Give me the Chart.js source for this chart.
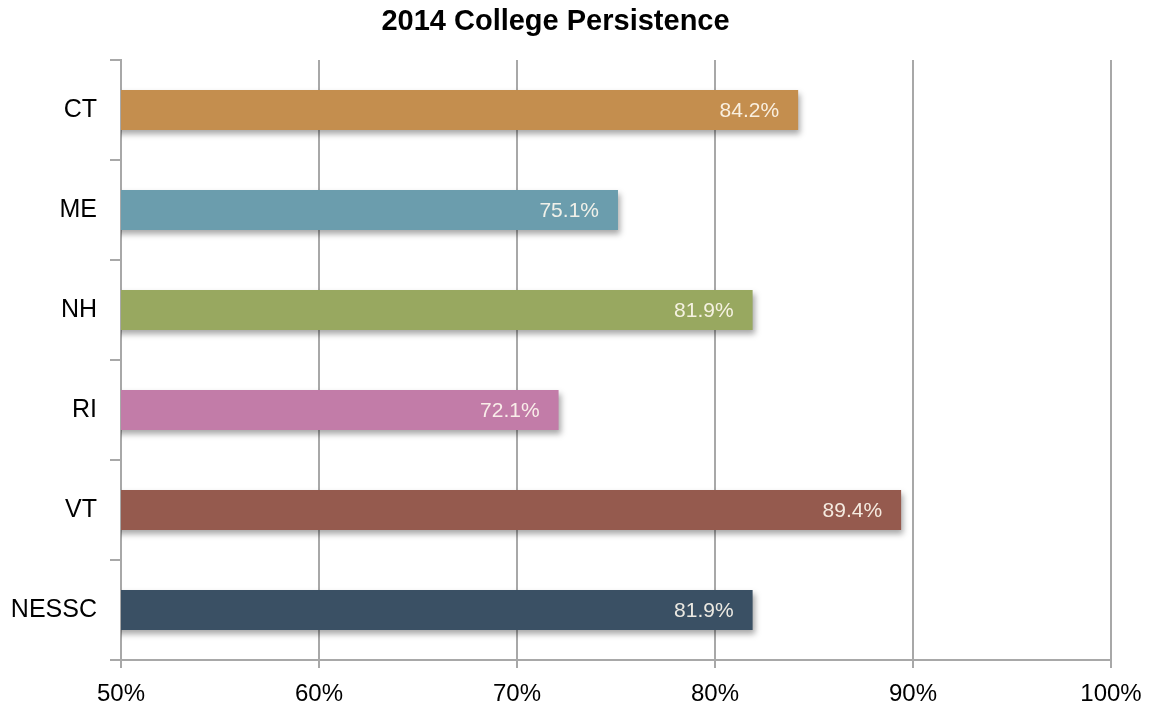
<!DOCTYPE html>
<html><head><meta charset="utf-8">
<script src="https://cdn.jsdelivr.net/npm/chart.js@4/dist/chart.umd.min.js"></script>
<style>html,body{margin:0;padding:0;background:#fff}#wrap{width:1149px;height:709px}</style>
</head><body><div id="wrap"><canvas id="c" width="1149" height="709"></canvas></div>
<script>
const categories = ["CT","ME","NH","RI","VT","NESSC"];
const values = [84.2, 75.1, 81.9, 72.1, 89.4, 81.9];
const barColors = ["#C48E4E","#6B9DAD","#98A860","#C27CA8","#955A4E","#3A5064"];
const xTicks = [50,60,70,80,90,100];
const FONT = "'Liberation Sans', Arial, sans-serif";

const shadowPlugin = {
  id:'shadow',
  beforeDatasetsDraw(chart){const c=chart.ctx;c.save();c.shadowColor='rgba(0,0,0,0.35)';c.shadowBlur=6;c.shadowOffsetX=2;c.shadowOffsetY=4;},
  afterDatasetsDraw(chart){chart.ctx.restore();}
};
const labelPlugin = {
  id:'vlabels',
  afterDraw(chart){
    const c=chart.ctx; const meta=chart.getDatasetMeta(0);
    c.save(); c.font="21px "+FONT; c.fillStyle="rgba(255,250,240,0.9)"; c.textAlign='right'; c.textBaseline='middle';
    meta.data.forEach((b,i)=>{ c.fillText(values[i].toFixed(1)+"%", b.x-19, b.y+1); });
    c.restore();
  }
};

new Chart(document.getElementById('c'),{
  type:'bar',
  data:{labels:categories,datasets:[{data:values,backgroundColor:barColors,borderWidth:0,barPercentage:0.4,categoryPercentage:1}]},
  options:{
    indexAxis:'y',responsive:false,animation:false,
    layout:{padding:{left:0,right:38,top:0,bottom:0}},
    plugins:{legend:{display:false},tooltip:{enabled:false},
      title:{display:true,text:"2014 College Persistence",color:"#000",font:{family:FONT,size:29,weight:'bold'},padding:{top:5,bottom:20.2}}},
    scales:{
      x:{min:50,max:100,
        afterFit(s){s.height=49;s.paddingLeft=0;s.paddingRight=0;},
        afterBuildTicks(s){s.ticks=xTicks.map(v=>({value:v}));},
        ticks:{callback:v=>v+"%",color:"#000",font:{family:FONT,size:24},padding:12,maxRotation:0},
        grid:{color:"#A8A8A8",lineWidth:2,tickLength:8},
        border:{color:"#A8A8A8",width:2}
      },
      y:{
        afterFit(s){s.width=121;s.paddingTop=0;s.paddingBottom=0;},
        ticks:{color:"#000",font:{family:FONT,size:25},padding:13},
        grid:{offset:true,drawOnChartArea:false,color:"#A8A8A8",lineWidth:2,tickLength:11},
        border:{color:"#A8A8A8",width:2}
      }
    }
  },
  plugins:[shadowPlugin,labelPlugin]
});
</script></body></html>
